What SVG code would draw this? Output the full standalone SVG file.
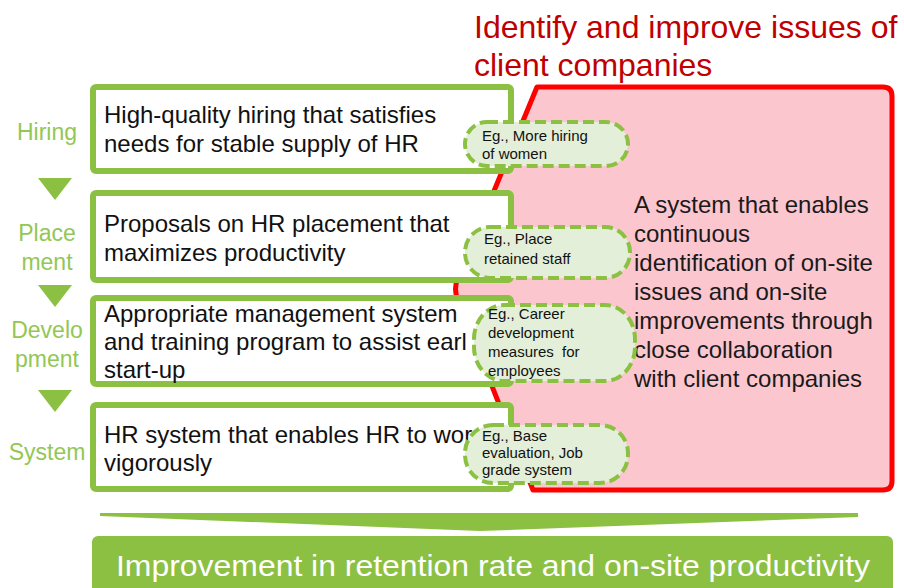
<svg xmlns="http://www.w3.org/2000/svg" width="904" height="588" viewBox="0 0 904 588">
  <style>
    .sans { font-family: "Liberation Sans", Arial, sans-serif; }
    .step { fill: #92c755; font-size: 23px; text-anchor: middle; }
    .box { fill: #ffffff; stroke: #8cc043; stroke-width: 6; }
    .boxtxt { fill: #111111; font-size: 24px; }
    .eg { fill: #e3efd8; stroke: #8cc043; stroke-width: 4; stroke-dasharray: 11 5; }
    .egtxt { fill: #111111; font-size: 15px; }
    .title { fill: #c00000; font-size: 32px; }
    .sys { fill: #1a1a1a; font-size: 24px; }
    .flow { fill: #8cc043; }
  </style>

  <rect width="904" height="588" fill="#ffffff"/>

  <!-- heading -->
  <g id="heading" class="sans">
    <text class="title" x="474" y="38">Identify and improve issues of</text>
    <text class="title" x="474" y="76">client companies</text>
  </g>

  <!-- client collaboration panel -->
  <g id="client-panel">
    <path d="M537,87 L883,87 Q892,87 892,96 L892,481 Q892,490 883,490 L533,490 L458,300 Q453,289 458,278 Z" fill="#fcc6cf" stroke="#ff0000" stroke-width="5" stroke-linejoin="round"/>
    <text class="sans sys" x="634" y="213">A system that enables</text>
    <text class="sans sys" x="634" y="242">continuous</text>
    <text class="sans sys" x="634" y="271">identification of on-site</text>
    <text class="sans sys" x="634" y="300">issues and on-site</text>
    <text class="sans sys" x="634" y="329">improvements through</text>
    <text class="sans sys" x="634" y="358">close collaboration</text>
    <text class="sans sys" x="634" y="387">with client companies</text>
  </g>

  <!-- step labels -->
  <g id="labels" class="sans">
    <text class="step" x="47" y="140">Hiring</text>
    <text class="step" x="47" y="241">Place</text>
    <text class="step" x="47" y="270">ment</text>
    <text class="step" x="47" y="338">Develo</text>
    <text class="step" x="47" y="367">pment</text>
    <text class="step" x="47" y="460">System</text>
  </g>

  <!-- connectors: step arrows and result arrow -->
  <g id="connectors" class="flow">
    <polygon points="38,178 72,178 55,200"/>
    <polygon points="38,285 72,285 55,307"/>
    <polygon points="38,390 72,390 55,412"/>
    <polygon points="100,513 858,513 858,517 480,531 100,516"/>
  </g>

  <g id="hiring" class="sans">
    <rect class="box" x="93" y="87" width="418" height="84" rx="3"/>
    <text class="boxtxt" x="104" y="123">High-quality hiring that satisfies</text>
    <text class="boxtxt" x="104" y="152">needs for stable supply of HR</text>
  </g>

  <g id="placement" class="sans">
    <rect class="box" x="93" y="193" width="418" height="87" rx="3"/>
    <text class="boxtxt" x="104" y="232">Proposals on HR placement that</text>
    <text class="boxtxt" x="104" y="261">maximizes productivity</text>
  </g>

  <g id="development" class="sans">
    <rect class="box" x="93" y="298" width="418" height="86" rx="3"/>
    <text class="boxtxt" x="104" y="322">Appropriate management system</text>
    <text class="boxtxt" x="104" y="350">and training program to assist earl</text>
    <text class="boxtxt" x="104" y="378">start-up</text>
  </g>

  <g id="system" class="sans">
    <rect class="box" x="93" y="405" width="418" height="84" rx="3"/>
    <text class="boxtxt" x="104" y="443">HR system that enables HR to wor</text>
    <text class="boxtxt" x="104" y="471">vigorously</text>
  </g>

  <!-- example callouts -->
  <g id="eg-hiring" class="sans">
    <rect class="eg" x="465" y="122" width="163" height="44" rx="22" ry="22"/>
    <text class="egtxt" x="482" y="141">Eg., More hiring</text>
    <text class="egtxt" x="482" y="159">of women</text>
  </g>

  <g id="eg-placement" class="sans">
    <rect class="eg" x="465" y="227" width="165" height="51" rx="25" ry="25"/>
    <text class="egtxt" x="484" y="244">Eg., Place</text>
    <text class="egtxt" x="484" y="264">retained staff</text>
  </g>

  <g id="eg-development" class="sans">
    <rect class="eg" x="474" y="305" width="161" height="76" rx="30" ry="34"/>
    <text class="egtxt" x="488" y="319">Eg., Career</text>
    <text class="egtxt" x="488" y="338">development</text>
    <text class="egtxt" x="488" y="357" word-spacing="4">measures for</text>
    <text class="egtxt" x="488" y="376">employees</text>
  </g>

  <g id="eg-system" class="sans">
    <rect class="eg" x="465" y="425" width="163" height="58" rx="28" ry="28"/>
    <text class="egtxt" x="482" y="441">Eg., Base</text>
    <text class="egtxt" x="482" y="458">evaluation, Job</text>
    <text class="egtxt" x="482" y="475">grade system</text>
  </g>

  <!-- outcome bar -->
  <g id="outcome" class="sans">
    <rect x="92" y="536" width="801" height="60" rx="6" fill="#8cc043"/>
    <text x="116" y="576" fill="#ffffff" font-size="29" textLength="754" lengthAdjust="spacingAndGlyphs">Improvement in retention rate and on-site productivity</text>
  </g>
</svg>
